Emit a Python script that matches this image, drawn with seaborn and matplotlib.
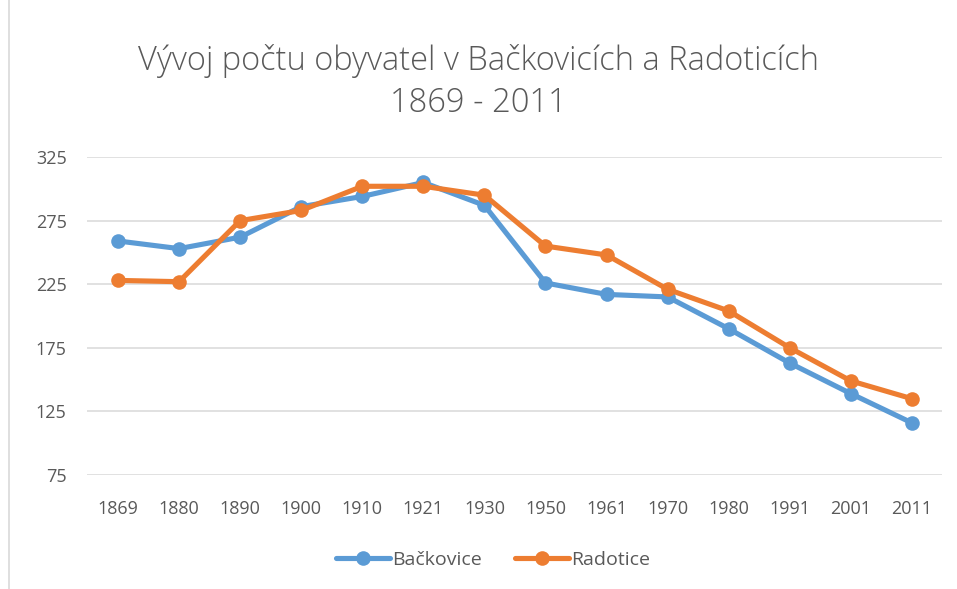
import matplotlib
matplotlib.use("Agg")
import matplotlib.pyplot as plt
import pandas as pd
import seaborn as sns
from matplotlib.patches import Rectangle

roky = ["1869", "1880", "1890", "1900", "1910", "1921", "1930",
        "1950", "1961", "1970", "1980", "1991", "2001", "2011"]
backovice = [259, 253, 262, 286, 294, 305, 287, 226, 217, 215, 190, 163, 139, 116]
radotice = [228, 227, 275, 283, 302, 302, 295, 255, 248, 221, 204, 175, 149, 135]

df = pd.DataFrame({
    "rok": roky * 2,
    "obyvatel": backovice + radotice,
    "obec": ["Bačkovice"] * len(roky) + ["Radotice"] * len(roky),
})

sns.set_theme(style="white")
plt.rcParams["font.family"] = ["Open Sans", "DejaVu Sans"]

seda = "#595959"
fig = plt.figure(figsize=(9.57, 5.89), dpi=100)
ax = fig.add_axes([0.0914, 0.1935, 0.8934, 0.5399])

sns.lineplot(data=df, x="rok", y="obyvatel", hue="obec",
             palette=["#5B9BD5", "#ED7D31"], marker="o", markersize=10.5,
             markeredgewidth=0, linewidth=3.7, sort=False, ax=ax, legend=True)

ax.set_xlim(-0.5, len(roky) - 0.5)
ax.set_ylim(75, 325)
ax.set_yticks(range(75, 326, 50))
ax.grid(axis="y", color="#D9D9D9", linewidth=1.1)
ax.set_axisbelow(True)
for s in ax.spines.values():
    s.set_visible(False)
ax.tick_params(axis="both", length=0, labelsize=13, colors=seda)
ax.tick_params(axis="y", pad=15)
ax.tick_params(axis="x", pad=18)
ax.set_xlabel("")
ax.set_ylabel("")

handles, labels = ax.get_legend_handles_labels()
ax.get_legend().remove()
fig.legend(handles, labels, loc="center", bbox_to_anchor=(0.515, 0.050), ncol=2,
           frameon=False, fontsize=14, labelcolor=seda, handlelength=2.8,
           handletextpad=0.1, columnspacing=1.7)

fig.text(0.5, 0.897, "Vývoj počtu obyvatel v Bačkovicích a Radoticích",
         ha="center", va="center", fontsize=23.5, color=seda, fontweight="light")
fig.text(0.5, 0.824, "1869 - 2011", ha="center", va="center",
         fontsize=23.5, color=seda, fontweight="light")

fig.patches.append(Rectangle((0.009, -0.01), 1.5, 1.5, transform=fig.transFigure,
                             fill=False, edgecolor="#D9D9D9", linewidth=1.2))

fig.savefig("out.png", dpi=100)
